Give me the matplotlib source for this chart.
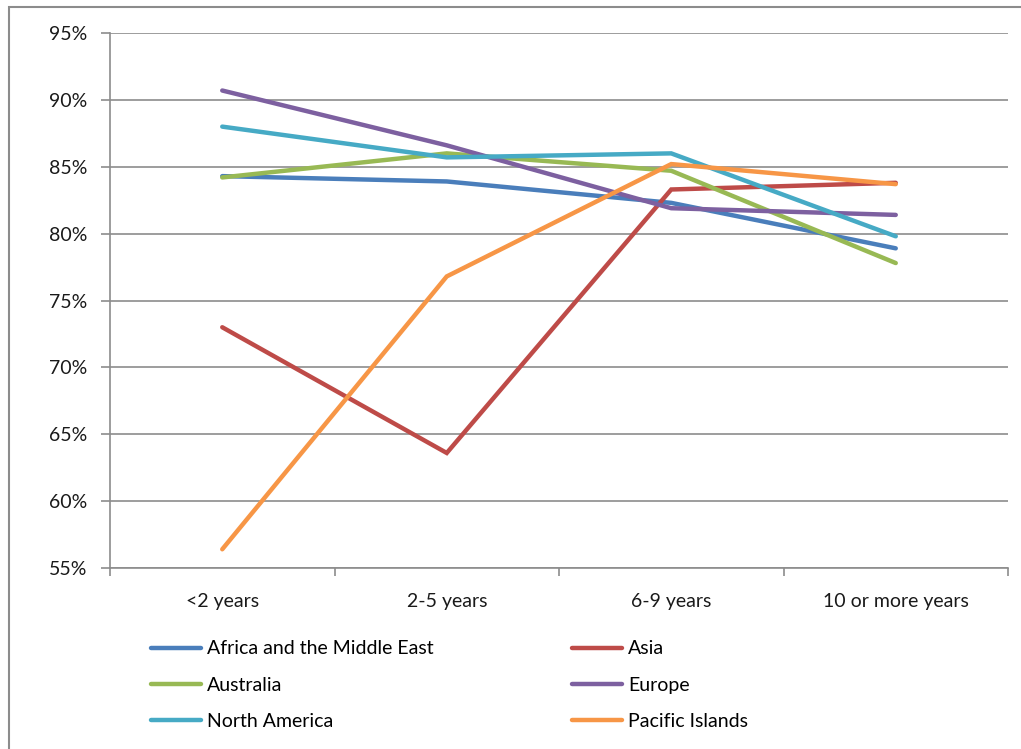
import numpy as np
import matplotlib.pyplot as plt
from matplotlib.patches import Rectangle
from matplotlib.ticker import MultipleLocator, FixedLocator, PercentFormatter

plt.rcParams['font.family'] = ['Lato', 'DejaVu Sans']

categories = ['<2 years', '2-5 years', '6-9 years', '10 or more years']
africa = [84.3, 83.9, 82.3, 78.9]
asia = [73.0, 63.6, 83.3, 83.8]
australia = [84.2, 86.0, 84.7, 77.8]
europe = [90.7, 86.6, 81.9, 81.4]
north_america = [88.0, 85.7, 86.0, 79.8]
pacific = [56.4, 76.8, 85.2, 83.7]

series = [
    ("Africa and the Middle East", africa, '#4A7EBB'),
    ("Asia", asia, '#BE4B48'),
    ("Australia", australia, '#98B954'),
    ("Europe", europe, '#7D60A0'),
    ("North America", north_america, '#46AAC5'),
    ("Pacific Islands", pacific, '#F79646'),
]

W, H = 1021, 749
fig = plt.figure(figsize=(W / 100, H / 100), dpi=100)
ax = fig.add_axes([110 / W, 1 - 568 / H, (1008 - 110) / W, (568 - 33) / H])

# outer chart frame (cropped at right and bottom)
fig.add_artist(Rectangle((9 / W, -0.1), 1.2, 1 - 7 / H + 0.1, transform=fig.transFigure,
                         facecolor='none', edgecolor='#8c8c8c', linewidth=1.5, clip_on=False))

x = np.arange(len(categories))
lines = {}
for name, vals, color in series:
    lines[name], = ax.plot(x, vals, color=color, linewidth=3.2, solid_capstyle='round',
                           solid_joinstyle='miter', label=name)

ax.set_xlim(-0.5, len(categories) - 0.5)
ax.set_ylim(55, 95)
ax.yaxis.set_major_locator(MultipleLocator(5))
ax.yaxis.set_major_formatter(PercentFormatter(decimals=0))
ax.grid(axis='y', color='#8c8c8c', linewidth=1.2)
ax.set_axisbelow(True)

ax.set_xticks(x)
ax.set_xticklabels(categories)
ax.xaxis.set_minor_locator(FixedLocator(np.arange(-0.5, len(categories), 1.0)))
ax.tick_params(axis='x', which='major', length=0, pad=18, labelsize=14, labelcolor='#1a1a1a')
ax.tick_params(axis='x', which='minor', length=6, width=1.2, color='#8c8c8c', direction='out')
ax.tick_params(axis='y', length=6.5, width=1.2, color='#8c8c8c', pad=10, labelsize=14,
               labelcolor='#1a1a1a')

for side in ['top', 'right']:
    ax.spines[side].set_visible(False)
for side in ['left', 'bottom']:
    ax.spines[side].set_color('#8c8c8c')
    ax.spines[side].set_linewidth(1.2)

order = ["Africa and the Middle East", "Australia", "North America", "Asia", "Europe", "Pacific Islands"]
fig.legend([lines[n] for n in order], order, ncol=2, loc='upper left',
           bbox_to_anchor=(133 / W, 1 - 623 / H), frameon=False, fontsize=14,
           handlelength=2.6, handletextpad=0.3, columnspacing=7.1, labelspacing=0.98)

fig.savefig('out.png', dpi=100)
